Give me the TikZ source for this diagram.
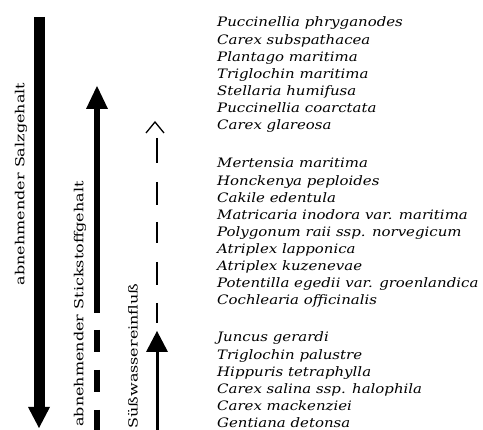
\documentclass[tikz,border=0pt]{standalone}
\usepackage{fontspec}
\setmainfont{DejaVu Serif}
\newfontfamily\specfont[FakeStretch=1.15]{DejaVu Serif Italic}
\newfontfamily\labfont[FakeStretch=1.28]{DejaVu Serif}
\begin{document}
\begin{tikzpicture}[x=1pt,y=-1pt,
  species/.style={anchor=base west,inner sep=0pt,font=\specfont\fontsize{13}{15}\selectfont},
  axislabel/.style={rotate=90,inner sep=0pt,font=\labfont\fontsize{12.5}{14}\selectfont},
  headfill/.style={fill=black,draw=none}]
\useasboundingbox (0,0) rectangle (483,430);
% --- arrow 1: decreasing salinity (down)
\coordinate (a1top) at (39,17);
\coordinate (a1base) at (39,408);
\coordinate (a1tip) at (39,428);
\draw[line width=11pt] (a1top) -- (a1base);
\fill (28,407) -- (50,407) -- (a1tip) -- cycle;
\node[axislabel] (lsalz) at (21,184) {abnehmender Salzgehalt};
% --- arrow 2: decreasing nitrogen (up)
\coordinate (a2tip) at (97,86);
\coordinate (a2base) at (97,108);
\coordinate (a2mid) at (97,313);
\coordinate (a2dash) at (97,330);
\coordinate (a2end) at (97,430);
\draw[line width=6pt] (a2base) -- (a2mid);
\draw[line width=6pt,dash pattern=on 22pt off 18pt] (a2dash) -- (a2end);
\fill (86,109) -- (108,109) -- (a2tip) -- cycle;
\node[axislabel] (lstick) at (80,304) {abnehmender Stickstoffgehalt};
% --- arrow 3: freshwater influence
\coordinate (a3apex) at (155,122);
\draw[line width=1.3pt] (146,133) -- (a3apex) -- (164,133);
\foreach \ya/\yb [count=\i] in {138/163,182/205,222/243,262/285,303/323}
  \draw[line width=2.5pt] (157,\ya) coordinate (d\i a) -- (157,\yb) coordinate (d\i b);
\coordinate (a3tip) at (157,331);
\coordinate (a3base) at (157,351);
\coordinate (a3end) at (157,430);
\draw[line width=3pt] (a3base) -- (a3end);
\fill (146,352) -- (168,352) -- (a3tip) -- cycle;
\node[axislabel] (lsuess) at (133,356) {Süßwassereinfluß};
% --- species lists
\foreach \t [count=\i from 0] in {Puccinellia phryganodes,Carex subspathacea,Plantago maritima,Triglochin maritima,Stellaria humifusa,Puccinellia coarctata,Carex glareosa}
  \node[species] (g1s\i) at (217,27+17.15*\i) {\t};
\foreach \t [count=\i from 0] in {Mertensia maritima,Honckenya peploides,Cakile edentula,Matricaria inodora var. maritima,Polygonum raii ssp. norvegicum,Atriplex lapponica,Atriplex kuzenevae,Potentilla egedii var. groenlandica,Cochlearia officinalis}
  \node[species] (g2s\i) at (217,168+17.1*\i) {\t};
\foreach \t [count=\i from 0] in {Juncus gerardi,Triglochin palustre,Hippuris tetraphylla,Carex salina ssp. halophila,Carex mackenziei,Gentiana detonsa}
  \node[species] (g3s\i) at (217,342+17.2*\i) {\t};
\end{tikzpicture}
\end{document}
